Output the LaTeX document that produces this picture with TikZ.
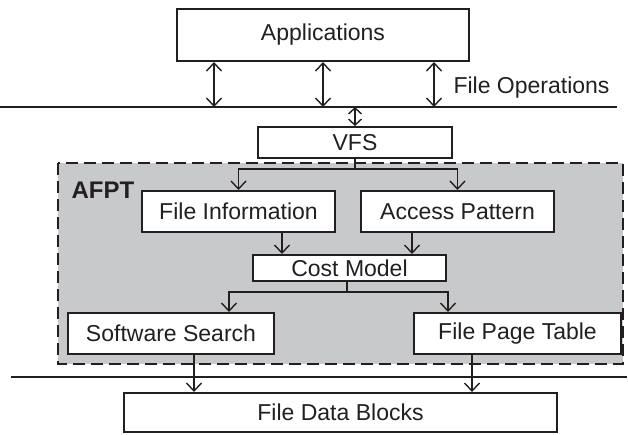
\documentclass[tikz,border=0pt]{standalone}
\usepackage{fontspec}
\setmainfont{Liberation Sans}
\usetikzlibrary{arrows.meta}
\definecolor{ink}{RGB}{35,31,32}
\definecolor{regiongray}{RGB}{200,201,202}
\tikzset{
  every node/.style={font=\fontsize{23}{27}\selectfont, text=ink},
  blockbox/.style={draw=ink, line width=2pt, fill=white, inner sep=0pt, minimum width=#1},
  conn/.style={draw=ink, line width=1.4pt, -{Straight Barb[length=8pt,width=15pt,line width=1.4pt]}},
  twoway/.style={draw=ink, line width=1.4pt, {Straight Barb[length=8pt,width=15pt,line width=1.4pt]}-{Straight Barb[length=8pt,width=15pt,line width=1.4pt]}},
  shorttwoway/.style={draw=ink, line width=1.4pt, {Straight Barb[length=6pt,width=13pt,line width=1.4pt]}-{Straight Barb[length=6pt,width=13pt,line width=1.4pt]}},
  sepline/.style={draw=ink, line width=2.4pt},
}
\begin{document}
\begin{tikzpicture}[x=1pt, y=-1pt]
\useasboundingbox (0,0) rectangle (628,434);

% shaded AFPT region
\draw[ink, line width=2pt, dash pattern=on 12pt off 6pt, fill=regiongray] (58,163) rectangle (623,364);
\node[font=\fontsize{24}{28}\selectfont\bfseries] (afpt) at (103,190) {AFPT};

% layer separators
\coordinate (topL) at (0,107);
\coordinate (topR) at (617,107);
\coordinate (botL) at (11,377);
\coordinate (botR) at (627,377);
\draw[sepline] (topL) -- (topR);
\draw[sepline] (botL) -- (botR);

% blocks
\node[blockbox=292pt, minimum height=52pt] (apps) at (323,35) {Applications};
\node[blockbox=194pt, minimum height=31pt] (vfs) at (355,142.5) {VFS};
\node[blockbox=193pt, minimum height=41pt] (finfo) at (238.5,211.5) {File Information};
\node[blockbox=193pt, minimum height=41pt] (apat) at (457.5,211.5) {Access Pattern};
\node[blockbox=193pt, minimum height=26pt] (cost) at (349.5,268) {Cost Model};
\node[blockbox=206pt, minimum height=41pt] (ssearch) at (171,333.5) {Software Search};
\node[blockbox=207pt, minimum height=41pt] (fpt) at (517.5,333.5) {File Page Table};
\node[blockbox=433pt, minimum height=39pt] (fdb) at (340.5,412.5) {File Data Blocks};

\node[anchor=west] (fops) at (450,88) {File Operations};

% application <-> file operation interface
\coordinate (op1) at (214,107);
\coordinate (op2) at (323,107);
\coordinate (op3) at (434,107);
\draw[twoway] (apps.south -| op1) -- (op1);
\draw[twoway] (apps.south -| op2) -- (op2);
\draw[twoway] (apps.south -| op3) -- (op3);
\draw[shorttwoway] (vfs.north |- topL) -- (vfs.north);

% VFS fan-out
\draw[conn] (vfs.south) -- ++(0,10) -| (finfo.north);
\draw[conn] (vfs.south) -- ++(0,10) -| (apat.north);

% into the cost model
\draw[conn] ([xshift=43.5pt]finfo.south) -- ([xshift=43.5pt]finfo.south |- cost.north);
\draw[conn] ([xshift=-45.5pt]apat.south) -- ([xshift=-45.5pt]apat.south |- cost.north);

% cost model fan-out
\draw[conn] ([xshift=-2.5pt]cost.south) -- ++(0,10) -| ([xshift=58pt]ssearch.north);
\draw[conn] ([xshift=-2.5pt]cost.south) -- ++(0,10) -| ([xshift=-69.5pt]fpt.north);

% down to the data blocks
\draw[conn] ([xshift=23pt]ssearch.south) -- ([xshift=23pt]ssearch.south |- fdb.north);
\draw[conn] ([xshift=-45.5pt]fpt.south) -- ([xshift=-45.5pt]fpt.south |- fdb.north);
\end{tikzpicture}
\end{document}
